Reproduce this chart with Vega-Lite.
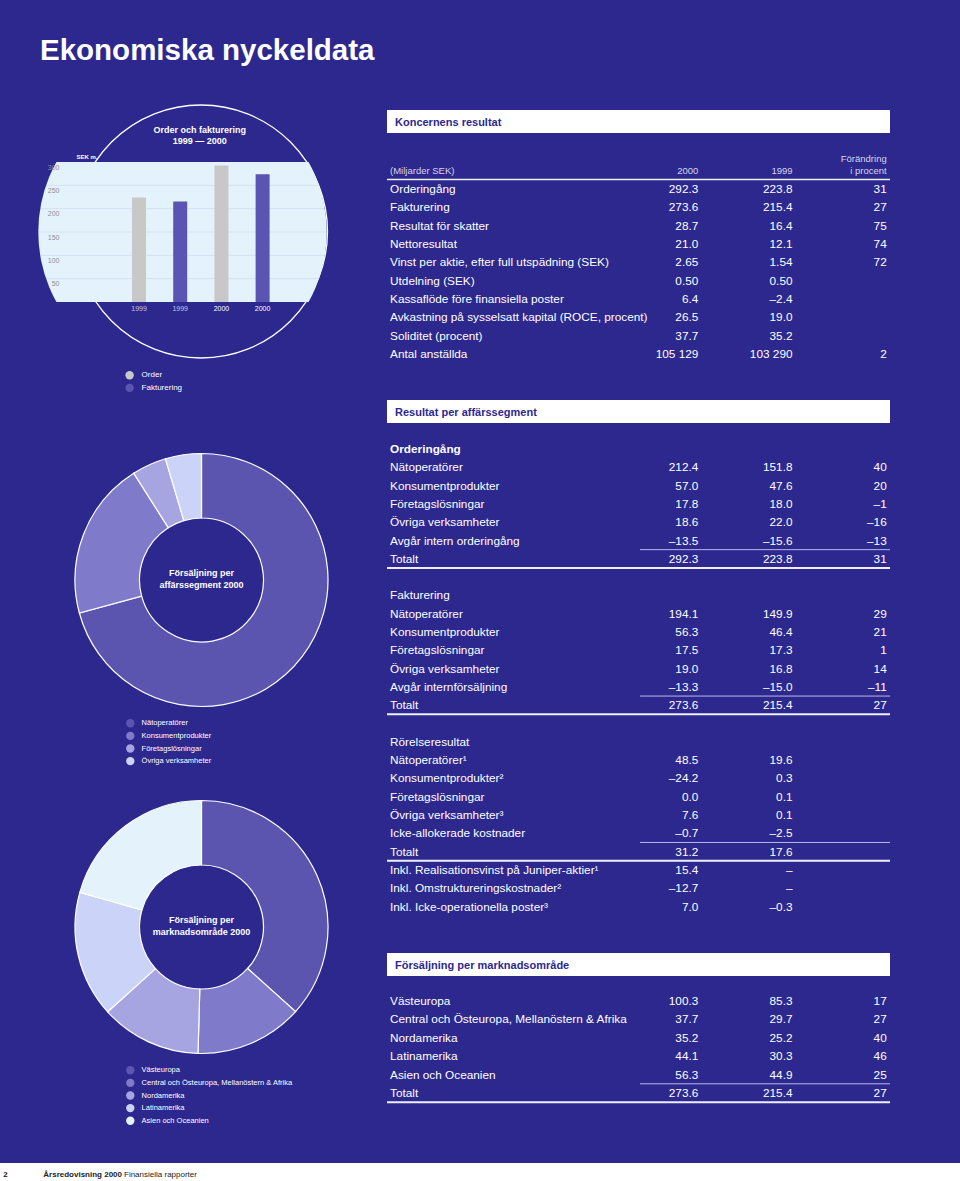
{
  "$schema": "https://vega.github.io/schema/vega-lite/v6.json",
  "background": "#2D288E",
  "padding": 0,
  "bounds": "flush",
  "align": "each",
  "columns": 4,
  "spacing": 0,
  "config": {"view": {"stroke": null}, "font": "Liberation Sans", "text": {"color": "white"}},
  "resolve": {"scale": {"color": "independent"}, "legend": {"color": "independent"}},
  "concat": [
    {
      "width": 16, "height": 95,
      "data": {"values": [{"t": "Ekonomiska nyckeldata"}]},
      "mark": {"type": "text", "align": "left", "baseline": "alphabetic", "dx": 32, "dy": 12.5, "fontSize": 29.5, "fontWeight": "bold", "color": "white"},
      "encoding": {"text": {"field": "t"}}
    },
    {"width": 1, "height": 1, "data": {"values": [{}]}, "mark": {"type": "text", "baseline": "top", "fontSize": 1}, "encoding": {"text": {"value": ""}}},
    {"width": 1, "height": 1, "data": {"values": [{}]}, "mark": {"type": "text", "baseline": "top", "fontSize": 1}, "encoding": {"text": {"value": ""}}},
    {"width": 1, "height": 1, "data": {"values": [{}]}, "mark": {"type": "text", "baseline": "top", "fontSize": 1}, "encoding": {"text": {"value": ""}}},

    {"width": 1, "height": 15, "data": {"values": [{}]}, "mark": {"type": "text", "baseline": "top", "fontSize": 1}, "encoding": {"text": {"value": ""}}},
    {"width": 1, "height": 1, "data": {"values": [{}]}, "mark": {"type": "text", "baseline": "top", "fontSize": 1}, "encoding": {"text": {"value": ""}}},
    {"width": 1, "height": 1, "data": {"values": [{}]}, "mark": {"type": "text", "baseline": "top", "fontSize": 1}, "encoding": {"text": {"value": ""}}},
    {"width": 1, "height": 1, "data": {"values": [{}]}, "mark": {"type": "text", "baseline": "top", "fontSize": 1}, "encoding": {"text": {"value": ""}}},

    {"width": 1, "height": 1, "data": {"values": [{}]}, "mark": {"type": "text", "baseline": "top", "fontSize": 1}, "encoding": {"text": {"value": ""}}},
    {"width": 1, "height": 1, "data": {"values": [{}]}, "mark": {"type": "text", "baseline": "top", "fontSize": 1}, "encoding": {"text": {"value": ""}}},
    {
      "width": 503, "height": 23, "view": {"fill": "white", "stroke": null},
      "data": {"values": [{"t": "Koncernens resultat"}]},
      "mark": {"type": "text", "align": "left", "baseline": "middle", "dx": -243.5, "dy": 1, "fontSize": 11, "fontWeight": "bold", "color": "#2D288E"},
      "encoding": {"text": {"field": "t"}}
    },
    {"width": 1, "height": 1, "data": {"values": [{}]}, "mark": {"type": "text", "baseline": "top", "fontSize": 1}, "encoding": {"text": {"value": ""}}},

    {"width": 1, "height": 1, "data": {"values": [{}]}, "mark": {"type": "text", "baseline": "top", "fontSize": 1}, "encoding": {"text": {"value": ""}}},
    {"width": 1, "height": 1, "data": {"values": [{}]}, "mark": {"type": "text", "baseline": "top", "fontSize": 1}, "encoding": {"text": {"value": ""}}},
    {
      "width": 503, "height": 29,
      "data": {"values": [
        {"r": 0, "label": "Orderingång", "a": "292.3", "b": "223.8", "c": "31"},
        {"r": 1, "label": "Fakturering", "a": "273.6", "b": "215.4", "c": "27"},
        {"r": 2, "label": "Resultat för skatter", "a": "28.7", "b": "16.4", "c": "75"},
        {"r": 3, "label": "Nettoresultat", "a": "21.0", "b": "12.1", "c": "74"},
        {"r": 4, "label": "Vinst per aktie, efter full utspädning (SEK)", "a": "2.65", "b": "1.54", "c": "72"},
        {"r": 5, "label": "Utdelning (SEK)", "a": "0.50", "b": "0.50", "c": ""},
        {"r": 6, "label": "Kassaflöde före finansiella poster", "a": "6.4", "b": "–2.4", "c": ""},
        {"r": 7, "label": "Avkastning på sysselsatt kapital (ROCE, procent)", "a": "26.5", "b": "19.0", "c": ""},
        {"r": 8, "label": "Soliditet (procent)", "a": "37.7", "b": "35.2", "c": ""},
        {"r": 9, "label": "Antal anställda", "a": "105 129", "b": "103 290", "c": "2"}
      ]},
      "encoding": {"y": {"field": "r", "type": "quantitative", "scale": {"domain": [-3.0551, -1.473], "reverse": true, "zero": false, "nice": false}, "axis": null}},
      "layer": [
        {"mark": {"type": "text", "align": "left", "baseline": "middle", "dx": -119.9, "fontSize": 11.8, "color": "white"},
         "encoding": {"x": {"datum": "l", "type": "nominal", "scale": {"type": "point", "domain": ["l", "m", "a", "b", "c"], "padding": 0.6699, "align": 0.974}, "axis": null}, "text": {"field": "label"}}},
        {"mark": {"type": "text", "align": "right", "baseline": "middle", "fontSize": 11.8, "color": "white"},
         "encoding": {"x": {"datum": "a", "type": "nominal", "scale": {"type": "point", "domain": ["l", "m", "a", "b", "c"], "padding": 0.6699, "align": 0.974}, "axis": null}, "text": {"field": "a"}}},
        {"mark": {"type": "text", "align": "right", "baseline": "middle", "fontSize": 11.8, "color": "white"},
         "encoding": {"x": {"datum": "b", "type": "nominal", "scale": {"type": "point", "domain": ["l", "m", "a", "b", "c"], "padding": 0.6699, "align": 0.974}, "axis": null}, "text": {"field": "b"}}},
        {"mark": {"type": "text", "align": "right", "baseline": "middle", "fontSize": 11.8, "color": "white"},
         "encoding": {"x": {"datum": "c", "type": "nominal", "scale": {"type": "point", "domain": ["l", "m", "a", "b", "c"], "padding": 0.6699, "align": 0.974}, "axis": null}, "text": {"field": "c"}}},
        {"data": {"values": [{"r": -1, "t": "(Miljarder SEK)"}]},
         "mark": {"type": "text", "align": "left", "baseline": "middle", "dx": -119.9, "fontSize": 9.5, "color": "#D4D4EE"},
         "encoding": {"x": {"datum": "l", "type": "nominal", "scale": {"type": "point", "domain": ["l", "m", "a", "b", "c"], "padding": 0.6699, "align": 0.974}, "axis": null}, "text": {"field": "t"}}},
        {"data": {"values": [{"r": -1, "col": "a", "t": "2000"}, {"r": -1, "col": "b", "t": "1999"}, {"r": -1, "col": "c", "t": "i procent"}, {"r": -1.64, "col": "c", "t": "Förändring"}]},
         "mark": {"type": "text", "align": "right", "baseline": "middle", "fontSize": 9.5, "color": "#D4D4EE"},
         "encoding": {"x": {"field": "col", "type": "nominal", "scale": {"type": "point", "domain": ["l", "m", "a", "b", "c"], "padding": 0.6699, "align": 0.974}, "axis": null}, "text": {"field": "t"}}},
        {"transform": [{"filter": "datum.r == 0"}], "mark": {"type": "rule", "color": "#EEEEFF", "strokeWidth": 1.6, "yOffset": -9.5}, "encoding": {}}
      ]
    },
    {"width": 1, "height": 1, "data": {"values": [{}]}, "mark": {"type": "text", "baseline": "top", "fontSize": 1}, "encoding": {"text": {"value": ""}}},

    {"width": 1, "height": 1, "data": {"values": [{}]}, "mark": {"type": "text", "baseline": "top", "fontSize": 1}, "encoding": {"text": {"value": ""}}},
    {
      "width": 371, "height": 140,
      "layer": [
        {"data": {"values": [{}]}, "mark": {"type": "point", "shape": "circle", "size": 64009, "filled": false, "stroke": "white", "strokeWidth": 1.3, "opacity": 1, "xOffset": -0.5, "yOffset": -0.5}, "encoding": {}},
        {"data": {"values": [{}]}, "mark": {"type": "point", "shape": "circle", "size": 83175, "filled": true, "color": "#E4F3FB", "opacity": 1, "clip": true, "xOffset": -19}, "encoding": {}},
        {
          "data": {"values": [{"v": 50}, {"v": 100}, {"v": 150}, {"v": 200}, {"v": 250}]},
          "mark": {"type": "rule", "color": "#2D288E", "strokeOpacity": 0.09, "strokeWidth": 1},
          "encoding": {
            "y": {"field": "v", "type": "quantitative", "scale": {"domain": [0, 300], "nice": false},
              "axis": {"values": [50, 100, 150, 200, 250, 300], "grid": false, "domain": false, "ticks": false, "tickSize": 0, "labelAlign": "right", "labelPadding": -43, "labelOffset": 5, "labelColor": "#8C8C9C", "labelFontSize": 7, "labelBaseline": "middle", "title": "SEK m.", "titleAngle": 0, "titleX": 60, "titleY": -3.5, "titleAlign": "left", "titleBaseline": "alphabetic", "titleColor": "white", "titleFontSize": 6, "titleFontWeight": "bold", "zindex": 1}}
          }
        },
        {
          "data": {"values": [
            {"k": "O1999", "serie": "Order", "v": 223.8},
            {"k": "F1999", "serie": "Fakturering", "v": 215.4},
            {"k": "O2000", "serie": "Order", "v": 292.3},
            {"k": "F2000", "serie": "Fakturering", "v": 273.6}
          ]},
          "mark": {"type": "bar"},
          "encoding": {
            "x": {"field": "k", "type": "nominal", "sort": null,
              "scale": {"domain": ["p1", "p2", "O1999", "F1999", "O2000", "F2000", "p3", "p4"], "paddingInner": 0.66, "paddingOuter": 0.8325, "align": 0.49},
              "axis": {"values": ["O1999", "F1999", "O2000", "F2000"], "labelExpr": "substring(datum.value, 1)", "labelAngle": 0, "domain": false, "ticks": false, "tickSize": 0, "labelPadding": 2, "labelFontSize": 7, "labelBaseline": "top", "labelColor": {"condition": {"test": "indexof(datum.value, '2000') >= 0", "value": "white"}, "value": "#C4C4DA"}, "title": null, "zindex": 1}},
            "y": {"field": "v", "type": "quantitative", "scale": {"domain": [0, 300], "nice": false},
              "axis": {"values": [50, 100, 150, 200, 250, 300], "grid": false, "domain": false, "ticks": false, "tickSize": 0, "labelAlign": "right", "labelPadding": -43, "labelOffset": 5, "labelColor": "#8C8C9C", "labelFontSize": 7, "labelBaseline": "middle", "title": "SEK m.", "titleAngle": 0, "titleX": 60, "titleY": -3.5, "titleAlign": "left", "titleBaseline": "alphabetic", "titleColor": "white", "titleFontSize": 6, "titleFontWeight": "bold", "zindex": 1}},
            "color": {"field": "serie", "type": "nominal",
              "scale": {"domain": ["Order", "Fakturering"], "range": ["#C8C8C8", "#5A54B2"]},
              "legend": {"orient": "none", "legendX": 109.1, "legendY": 208.8, "title": null, "labelColor": "white", "labelFontSize": 8, "symbolType": "circle", "symbolSize": 70, "symbolStrokeWidth": 0, "rowPadding": 3.6, "padding": 0, "labelOffset": 7.5}}
          }
        },
        {
          "data": {"values": [{"t": "Order och fakturering\n1999 — 2000"}]},
          "mark": {"type": "text", "lineBreak": "\n", "align": "center", "baseline": "top", "dx": -1.8, "dy": -106.5, "fontSize": 9, "fontWeight": "bold", "lineHeight": 11, "color": "white"},
          "encoding": {"text": {"field": "t"}}
        }
      ]
    },
    {"width": 1, "height": 1, "data": {"values": [{}]}, "mark": {"type": "text", "baseline": "top", "fontSize": 1}, "encoding": {"text": {"value": ""}}},
    {"width": 1, "height": 1, "data": {"values": [{}]}, "mark": {"type": "text", "baseline": "top", "fontSize": 1}, "encoding": {"text": {"value": ""}}},

    {"width": 1, "height": 98, "data": {"values": [{}]}, "mark": {"type": "text", "baseline": "top", "fontSize": 1}, "encoding": {"text": {"value": ""}}},
    {"width": 1, "height": 1, "data": {"values": [{}]}, "mark": {"type": "text", "baseline": "top", "fontSize": 1}, "encoding": {"text": {"value": ""}}},
    {"width": 1, "height": 1, "data": {"values": [{}]}, "mark": {"type": "text", "baseline": "top", "fontSize": 1}, "encoding": {"text": {"value": ""}}},
    {"width": 1, "height": 1, "data": {"values": [{}]}, "mark": {"type": "text", "baseline": "top", "fontSize": 1}, "encoding": {"text": {"value": ""}}},

    {"width": 1, "height": 1, "data": {"values": [{}]}, "mark": {"type": "text", "baseline": "top", "fontSize": 1}, "encoding": {"text": {"value": ""}}},
    {"width": 1, "height": 1, "data": {"values": [{}]}, "mark": {"type": "text", "baseline": "top", "fontSize": 1}, "encoding": {"text": {"value": ""}}},
    {
      "width": 503, "height": 23, "view": {"fill": "white", "stroke": null},
      "data": {"values": [{"t": "Resultat per affärssegment"}]},
      "mark": {"type": "text", "align": "left", "baseline": "middle", "dx": -243.5, "dy": 1, "fontSize": 11, "fontWeight": "bold", "color": "#2D288E"},
      "encoding": {"text": {"field": "t"}}
    },
    {"width": 1, "height": 1, "data": {"values": [{}]}, "mark": {"type": "text", "baseline": "top", "fontSize": 1}, "encoding": {"text": {"value": ""}}},

    {"width": 1, "height": 1, "data": {"values": [{}]}, "mark": {"type": "text", "baseline": "top", "fontSize": 1}, "encoding": {"text": {"value": ""}}},
    {"width": 1, "height": 1, "data": {"values": [{}]}, "mark": {"type": "text", "baseline": "top", "fontSize": 1}, "encoding": {"text": {"value": ""}}},
    {
      "width": 503, "height": 30,
      "data": {"values": [
        {"r": 0, "label": "Orderingång", "a": "", "b": "", "c": ""},
        {"r": 1, "label": "Nätoperatörer", "a": "212.4", "b": "151.8", "c": "40"},
        {"r": 2, "label": "Konsumentprodukter", "a": "57.0", "b": "47.6", "c": "20"},
        {"r": 3, "label": "Företagslösningar", "a": "17.8", "b": "18.0", "c": "–1"},
        {"r": 4, "label": "Övriga verksamheter", "a": "18.6", "b": "22.0", "c": "–16"},
        {"r": 5, "label": "Avgår intern orderingång", "a": "–13.5", "b": "–15.6", "c": "–13"},
        {"r": 6, "label": "Totalt", "a": "292.3", "b": "223.8", "c": "31"},
        {"r": 8, "label": "Fakturering", "a": "", "b": "", "c": ""},
        {"r": 9, "label": "Nätoperatörer", "a": "194.1", "b": "149.9", "c": "29"},
        {"r": 10, "label": "Konsumentprodukter", "a": "56.3", "b": "46.4", "c": "21"},
        {"r": 11, "label": "Företagslösningar", "a": "17.5", "b": "17.3", "c": "1"},
        {"r": 12, "label": "Övriga verksamheter", "a": "19.0", "b": "16.8", "c": "14"},
        {"r": 13, "label": "Avgår internförsäljning", "a": "–13.3", "b": "–15.0", "c": "–11"},
        {"r": 14, "label": "Totalt", "a": "273.6", "b": "215.4", "c": "27"},
        {"r": 16, "label": "Rörelseresultat", "a": "", "b": "", "c": ""},
        {"r": 17, "label": "Nätoperatörer¹", "a": "48.5", "b": "19.6", "c": ""},
        {"r": 18, "label": "Konsumentprodukter²", "a": "–24.2", "b": "0.3", "c": ""},
        {"r": 19, "label": "Företagslösningar", "a": "0.0", "b": "0.1", "c": ""},
        {"r": 20, "label": "Övriga verksamheter³", "a": "7.6", "b": "0.1", "c": ""},
        {"r": 21, "label": "Icke-allokerade kostnader", "a": "–0.7", "b": "–2.5", "c": ""},
        {"r": 22, "label": "Totalt", "a": "31.2", "b": "17.6", "c": ""},
        {"r": 23, "label": "Inkl. Realisationsvinst på Juniper-aktier¹", "a": "15.4", "b": "–", "c": ""},
        {"r": 24, "label": "Inkl. Omstruktureringskostnader²", "a": "–12.7", "b": "–", "c": ""},
        {"r": 25, "label": "Inkl. Icke-operationella poster³", "a": "7.0", "b": "–0.3", "c": ""}
      ]},
      "encoding": {"y": {"field": "r", "type": "quantitative", "scale": {"domain": [-1.4208, 0.2185], "reverse": true, "zero": false, "nice": false}, "axis": null}},
      "layer": [
        {"transform": [{"filter": "datum.r != 0"}],
         "mark": {"type": "text", "align": "left", "baseline": "middle", "dx": -119.9, "fontSize": 11.8, "color": "white"},
         "encoding": {"x": {"datum": "l", "type": "nominal", "scale": {"type": "point", "domain": ["l", "m", "a", "b", "c"], "padding": 0.6699, "align": 0.974}, "axis": null}, "text": {"field": "label"}}},
        {"transform": [{"filter": "datum.r == 0"}],
         "mark": {"type": "text", "align": "left", "baseline": "middle", "dx": -119.9, "fontSize": 11.8, "fontWeight": "bold", "color": "white"},
         "encoding": {"x": {"datum": "l", "type": "nominal", "scale": {"type": "point", "domain": ["l", "m", "a", "b", "c"], "padding": 0.6699, "align": 0.974}, "axis": null}, "text": {"field": "label"}}},
        {"mark": {"type": "text", "align": "right", "baseline": "middle", "fontSize": 11.8, "color": "white"},
         "encoding": {"x": {"datum": "a", "type": "nominal", "scale": {"type": "point", "domain": ["l", "m", "a", "b", "c"], "padding": 0.6699, "align": 0.974}, "axis": null}, "text": {"field": "a"}}},
        {"mark": {"type": "text", "align": "right", "baseline": "middle", "fontSize": 11.8, "color": "white"},
         "encoding": {"x": {"datum": "b", "type": "nominal", "scale": {"type": "point", "domain": ["l", "m", "a", "b", "c"], "padding": 0.6699, "align": 0.974}, "axis": null}, "text": {"field": "b"}}},
        {"mark": {"type": "text", "align": "right", "baseline": "middle", "fontSize": 11.8, "color": "white"},
         "encoding": {"x": {"datum": "c", "type": "nominal", "scale": {"type": "point", "domain": ["l", "m", "a", "b", "c"], "padding": 0.6699, "align": 0.974}, "axis": null}, "text": {"field": "c"}}},
        {"transform": [{"filter": "datum.label == 'Totalt'"}],
         "mark": {"type": "rule", "color": "#B8B8E8", "strokeWidth": 1, "yOffset": -9.15, "xOffset": -58.3, "x2Offset": 3.3},
         "encoding": {"x": {"datum": "a", "type": "nominal", "scale": {"type": "point", "domain": ["l", "m", "a", "b", "c"], "padding": 0.6699, "align": 0.974}, "axis": null}, "x2": {"datum": "c"}}},
        {"transform": [{"filter": "datum.label == 'Totalt'"}],
         "mark": {"type": "rule", "color": "#EEEEFF", "strokeWidth": 2, "yOffset": 9.15}, "encoding": {}}
      ]
    },
    {"width": 1, "height": 1, "data": {"values": [{}]}, "mark": {"type": "text", "baseline": "top", "fontSize": 1}, "encoding": {"text": {"value": ""}}},

    {"width": 1, "height": 1, "data": {"values": [{}]}, "mark": {"type": "text", "baseline": "top", "fontSize": 1}, "encoding": {"text": {"value": ""}}},
    {
      "width": 371, "height": 254,
      "layer": [
        {
          "data": {"values": [
            {"i": 1, "segment": "Nätoperatörer", "share": 70.8},
            {"i": 2, "segment": "Konsumentprodukter", "share": 20.2},
            {"i": 3, "segment": "Företagslösningar", "share": 4.4},
            {"i": 4, "segment": "Övriga verksamheter", "share": 4.6}
          ]},
          "mark": {"type": "arc", "outerRadius": 126.5, "innerRadius": 62, "stroke": "white", "strokeWidth": 1.2},
          "encoding": {
            "theta": {"field": "share", "type": "quantitative"},
            "order": {"field": "i", "type": "quantitative"},
            "color": {"field": "segment", "type": "nominal",
              "scale": {"domain": ["Nätoperatörer", "Konsumentprodukter", "Företagslösningar", "Övriga verksamheter"], "range": ["#5B55B0", "#7F7BCA", "#A6A5E2", "#CBD3F8"]},
              "legend": {"orient": "none", "legendX": 109.8, "legendY": 265.8, "title": null, "labelColor": "white", "labelFontSize": 7.5, "labelLimit": 300, "symbolType": "circle", "symbolSize": 70, "symbolStrokeWidth": 0, "rowPadding": 3.6, "padding": 0, "labelOffset": 6.8}}
          }
        },
        {
          "data": {"values": [{"t": "Försäljning per\naffärssegment 2000"}]},
          "mark": {"type": "text", "lineBreak": "\n", "align": "center", "baseline": "top", "dy": -10.7, "fontSize": 9, "fontWeight": "bold", "lineHeight": 12, "color": "white"},
          "encoding": {"text": {"field": "t"}}
        }
      ]
    },
    {"width": 1, "height": 1, "data": {"values": [{}]}, "mark": {"type": "text", "baseline": "top", "fontSize": 1}, "encoding": {"text": {"value": ""}}},
    {"width": 1, "height": 1, "data": {"values": [{}]}, "mark": {"type": "text", "baseline": "top", "fontSize": 1}, "encoding": {"text": {"value": ""}}},

    {"width": 1, "height": 194, "data": {"values": [{}]}, "mark": {"type": "text", "baseline": "top", "fontSize": 1}, "encoding": {"text": {"value": ""}}},
    {"width": 1, "height": 1, "data": {"values": [{}]}, "mark": {"type": "text", "baseline": "top", "fontSize": 1}, "encoding": {"text": {"value": ""}}},
    {"width": 1, "height": 1, "data": {"values": [{}]}, "mark": {"type": "text", "baseline": "top", "fontSize": 1}, "encoding": {"text": {"value": ""}}},
    {"width": 1, "height": 1, "data": {"values": [{}]}, "mark": {"type": "text", "baseline": "top", "fontSize": 1}, "encoding": {"text": {"value": ""}}},

    {"width": 1, "height": 1, "data": {"values": [{}]}, "mark": {"type": "text", "baseline": "top", "fontSize": 1}, "encoding": {"text": {"value": ""}}},
    {
      "width": 371, "height": 52,
      "layer": [
        {
          "data": {"values": [
            {"i": 1, "region": "Västeuropa", "sales": 100.3},
            {"i": 2, "region": "Central och Östeuropa, Mellanöstern & Afrika", "sales": 37.7},
            {"i": 3, "region": "Nordamerika", "sales": 35.2},
            {"i": 4, "region": "Latinamerika", "sales": 44.1},
            {"i": 5, "region": "Asien och Oceanien", "sales": 56.3}
          ]},
          "mark": {"type": "arc", "outerRadius": 126.5, "innerRadius": 62, "stroke": "white", "strokeWidth": 1.2},
          "encoding": {
            "theta": {"field": "sales", "type": "quantitative"},
            "order": {"field": "i", "type": "quantitative"},
            "color": {"field": "region", "type": "nominal",
              "scale": {"domain": ["Västeuropa", "Central och Östeuropa, Mellanöstern & Afrika", "Nordamerika", "Latinamerika", "Asien och Oceanien"], "range": ["#5B55B0", "#7F7BCA", "#A6A5E2", "#CBD3F8", "#E4F3FB"]},
              "legend": {"orient": "none", "legendX": 109.8, "legendY": 164.8, "title": null, "labelColor": "white", "labelFontSize": 7.5, "labelLimit": 300, "symbolType": "circle", "symbolSize": 70, "symbolStrokeWidth": 0, "rowPadding": 3.6, "padding": 0, "labelOffset": 6.8}}
          }
        },
        {
          "data": {"values": [{"t": "Försäljning per\nmarknadsområde 2000"}]},
          "mark": {"type": "text", "lineBreak": "\n", "align": "center", "baseline": "top", "dy": -10.7, "fontSize": 9, "fontWeight": "bold", "lineHeight": 12, "color": "white"},
          "encoding": {"text": {"field": "t"}}
        }
      ]
    },
    {"width": 1, "height": 1, "data": {"values": [{}]}, "mark": {"type": "text", "baseline": "top", "fontSize": 1}, "encoding": {"text": {"value": ""}}},
    {"width": 1, "height": 1, "data": {"values": [{}]}, "mark": {"type": "text", "baseline": "top", "fontSize": 1}, "encoding": {"text": {"value": ""}}},

    {"width": 1, "height": 1, "data": {"values": [{}]}, "mark": {"type": "text", "baseline": "top", "fontSize": 1}, "encoding": {"text": {"value": ""}}},
    {"width": 1, "height": 1, "data": {"values": [{}]}, "mark": {"type": "text", "baseline": "top", "fontSize": 1}, "encoding": {"text": {"value": ""}}},
    {
      "width": 503, "height": 23, "view": {"fill": "white", "stroke": null},
      "data": {"values": [{"t": "Försäljning per marknadsområde"}]},
      "mark": {"type": "text", "align": "left", "baseline": "middle", "dx": -243.5, "dy": 1, "fontSize": 11, "fontWeight": "bold", "color": "#2D288E"},
      "encoding": {"text": {"field": "t"}}
    },
    {"width": 1, "height": 1, "data": {"values": [{}]}, "mark": {"type": "text", "baseline": "top", "fontSize": 1}, "encoding": {"text": {"value": ""}}},

    {"width": 1, "height": 1, "data": {"values": [{}]}, "mark": {"type": "text", "baseline": "top", "fontSize": 1}, "encoding": {"text": {"value": ""}}},
    {"width": 1, "height": 1, "data": {"values": [{}]}, "mark": {"type": "text", "baseline": "top", "fontSize": 1}, "encoding": {"text": {"value": ""}}},
    {
      "width": 503, "height": 134,
      "data": {"values": [
        {"r": 0, "label": "Västeuropa", "a": "100.3", "b": "85.3", "c": "17"},
        {"r": 1, "label": "Central och Östeuropa, Mellanöstern & Afrika", "a": "37.7", "b": "29.7", "c": "27"},
        {"r": 2, "label": "Nordamerika", "a": "35.2", "b": "25.2", "c": "40"},
        {"r": 3, "label": "Latinamerika", "a": "44.1", "b": "30.3", "c": "46"},
        {"r": 4, "label": "Asien och Oceanien", "a": "56.3", "b": "44.9", "c": "25"},
        {"r": 5, "label": "Totalt", "a": "273.6", "b": "215.4", "c": "27"}
      ]},
      "encoding": {"y": {"field": "r", "type": "quantitative", "scale": {"domain": [-1.3587, 5.9239], "reverse": true, "zero": false, "nice": false}, "axis": null}},
      "layer": [
        {"mark": {"type": "text", "align": "left", "baseline": "middle", "dx": -119.9, "fontSize": 11.8, "color": "white"},
         "encoding": {"x": {"datum": "l", "type": "nominal", "scale": {"type": "point", "domain": ["l", "m", "a", "b", "c"], "padding": 0.6699, "align": 0.974}, "axis": null}, "text": {"field": "label"}}},
        {"mark": {"type": "text", "align": "right", "baseline": "middle", "fontSize": 11.8, "color": "white"},
         "encoding": {"x": {"datum": "a", "type": "nominal", "scale": {"type": "point", "domain": ["l", "m", "a", "b", "c"], "padding": 0.6699, "align": 0.974}, "axis": null}, "text": {"field": "a"}}},
        {"mark": {"type": "text", "align": "right", "baseline": "middle", "fontSize": 11.8, "color": "white"},
         "encoding": {"x": {"datum": "b", "type": "nominal", "scale": {"type": "point", "domain": ["l", "m", "a", "b", "c"], "padding": 0.6699, "align": 0.974}, "axis": null}, "text": {"field": "b"}}},
        {"mark": {"type": "text", "align": "right", "baseline": "middle", "fontSize": 11.8, "color": "white"},
         "encoding": {"x": {"datum": "c", "type": "nominal", "scale": {"type": "point", "domain": ["l", "m", "a", "b", "c"], "padding": 0.6699, "align": 0.974}, "axis": null}, "text": {"field": "c"}}},
        {"transform": [{"filter": "datum.label == 'Totalt'"}],
         "mark": {"type": "rule", "color": "#B8B8E8", "strokeWidth": 1, "yOffset": -9.2, "xOffset": -58.3, "x2Offset": 3.3},
         "encoding": {"x": {"datum": "a", "type": "nominal", "scale": {"type": "point", "domain": ["l", "m", "a", "b", "c"], "padding": 0.6699, "align": 0.974}, "axis": null}, "x2": {"datum": "c"}}},
        {"transform": [{"filter": "datum.label == 'Totalt'"}],
         "mark": {"type": "rule", "color": "#EEEEFF", "strokeWidth": 2, "yOffset": 9.2}, "encoding": {}}
      ]
    },
    {"width": 1, "height": 1, "data": {"values": [{}]}, "mark": {"type": "text", "baseline": "top", "fontSize": 1}, "encoding": {"text": {"value": ""}}},

    {"width": 1, "height": 53, "data": {"values": [{}]}, "mark": {"type": "text", "baseline": "top", "fontSize": 1}, "encoding": {"text": {"value": ""}}},
    {"width": 1, "height": 1, "data": {"values": [{}]}, "mark": {"type": "text", "baseline": "top", "fontSize": 1}, "encoding": {"text": {"value": ""}}},
    {"width": 1, "height": 1, "data": {"values": [{}]}, "mark": {"type": "text", "baseline": "top", "fontSize": 1}, "encoding": {"text": {"value": ""}}},
    {"width": 1, "height": 1, "data": {"values": [{}]}, "mark": {"type": "text", "baseline": "top", "fontSize": 1}, "encoding": {"text": {"value": ""}}},

    {"width": 16, "height": 18, "view": {"fill": "white", "stroke": null}, "data": {"values": [{}]}, "mark": {"type": "text", "baseline": "top", "fontSize": 1}, "encoding": {"text": {"value": ""}}},
    {
      "width": 371, "height": 18, "view": {"fill": "white", "stroke": null},
      "data": {"values": [{"p": "2", "t": "Årsredovisning 2000", "s": "Finansiella rapporter"}]},
      "layer": [
        {"mark": {"type": "text", "align": "left", "baseline": "alphabetic", "dx": -198.2, "dy": 5.4, "fontSize": 8, "fontWeight": "bold", "color": "#222222"}, "encoding": {"text": {"field": "p"}}},
        {"mark": {"type": "text", "align": "left", "baseline": "alphabetic", "dx": -158.2, "dy": 5.4, "fontSize": 8, "fontWeight": "bold", "color": "#222222"}, "encoding": {"text": {"field": "t"}}},
        {"mark": {"type": "text", "align": "left", "baseline": "alphabetic", "dx": -77.5, "dy": 5.4, "fontSize": 8, "color": "#222222"}, "encoding": {"text": {"field": "s"}}}
      ]
    },
    {"width": 503, "height": 18, "view": {"fill": "white", "stroke": null}, "data": {"values": [{}]}, "mark": {"type": "text", "baseline": "top", "fontSize": 1}, "encoding": {"text": {"value": ""}}},
    {"width": 70, "height": 18, "view": {"fill": "white", "stroke": null}, "data": {"values": [{}]}, "mark": {"type": "text", "baseline": "top", "fontSize": 1}, "encoding": {"text": {"value": ""}}}
  ]
}
